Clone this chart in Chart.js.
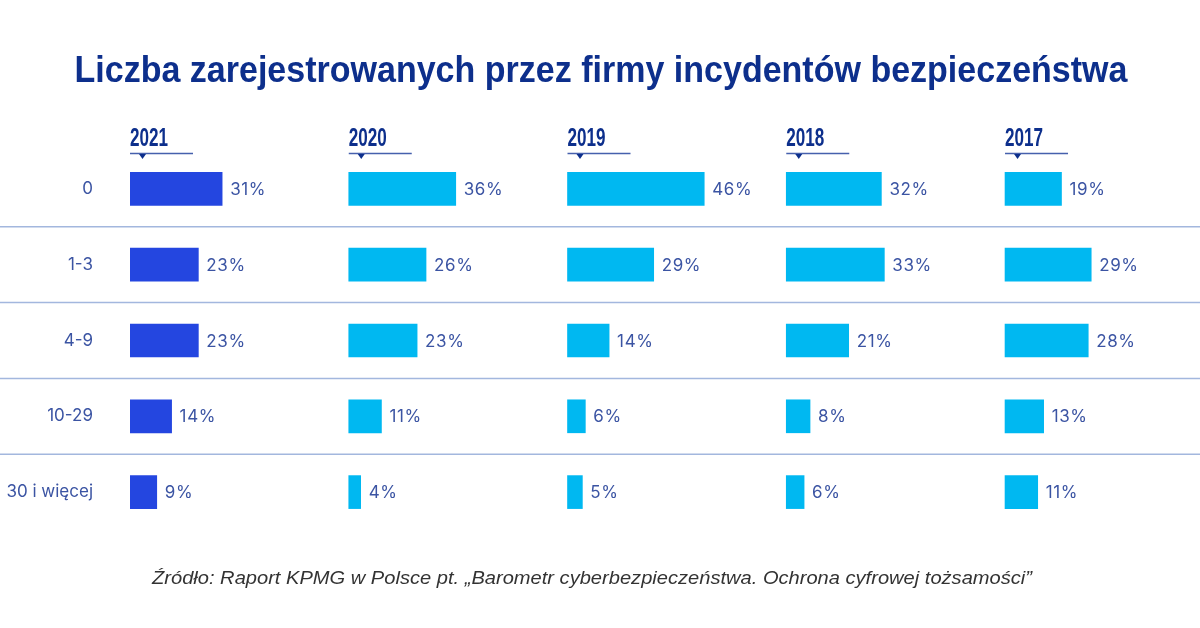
<!DOCTYPE html>
<html lang="pl">
<head>
<meta charset="utf-8">
<title>Liczba zarejestrowanych przez firmy incydentów bezpieczeństwa</title>
<script src="https://cdn.jsdelivr.net/npm/chart.js@4.4.1/dist/chart.umd.min.js"></script>
<style>
  html, body { margin: 0; padding: 0; background: #fff; }
  #wrap { width: 1200px; height: 628px; }
</style>
</head>
<body>
<div id="wrap"><canvas id="chart" width="1200" height="628"></canvas></div>
<script>
const categories = ["0", "1-3", "4-9", "10-29", "30 i więcej"];
const years = ["2021", "2020", "2019", "2018", "2017"];
const share2021 = [31, 23, 23, 14, 9];
const share2020 = [36, 26, 23, 11, 4];
const share2019 = [46, 29, 14, 6, 5];
const share2018 = [32, 33, 21, 8, 6];
const share2017 = [19, 29, 28, 13, 11];
const series = [share2021, share2020, share2019, share2018, share2017];

const TITLE = "Liczba zarejestrowanych przez firmy incydentów bezpieczeństwa";
const SOURCE = "Źródło: Raport KPMG w Polsce pt. „Barometr cyberbezpieczeństwa. Ochrona cyfrowej tożsamości”";

const NAVY = "#0d2f8c";
const LABEL = "#3b54a3";
const PANEL = 73.6; // one year column = this many % units on the shared x scale

// draw text squeezed/stretched horizontally to a given width
function fitText(c, str, x, y, font, width, align) {
  c.save();
  c.font = font;
  const k = width / c.measureText(str).width;
  c.translate(x, y);
  c.scale(k, 1);
  c.textAlign = align;
  c.textBaseline = "alphabetic";
  c.fillText(str, 0, 0);
  c.restore();
}

/* ================= PLUGINS ================= */

const separators = {
  id: "separators",
  beforeDatasetsDraw(chart) {
    const c = chart.ctx, ys = chart.scales.y;
    c.save();
    c.strokeStyle = "#a3b7de";
    c.lineWidth = 1.5;
    for (let i = 0; i < categories.length - 1; i++) {
      const y = (ys.getPixelForValue(i) + ys.getPixelForValue(i + 1)) / 2;
      c.beginPath();
      c.moveTo(0, y);
      c.lineTo(chart.width, y);
      c.stroke();
    }
    c.restore();
  }
};

const decorations = {
  id: "decorations",
  afterDraw(chart) {
    const c = chart.ctx, xs = chart.scales.x;

    // title
    c.fillStyle = NAVY;
    fitText(c, TITLE, 601, 82, "bold 37px 'Liberation Sans', Arial, sans-serif", 1053, "center");

    // year headers
    years.forEach((yr, i) => {
      const x0 = xs.getPixelForValue(i * PANEL);
      c.fillStyle = NAVY;
      fitText(c, yr, x0, 146, "bold 25px 'Liberation Sans', Arial, sans-serif", 38, "left");
      c.save();
      c.strokeStyle = "#4660ad";
      c.lineWidth = 1.5;
      c.beginPath();
      c.moveTo(x0, 153.5);
      c.lineTo(x0 + 63, 153.5);
      c.stroke();
      c.fillStyle = NAVY;
      c.beginPath();
      c.moveTo(x0 + 9, 154);
      c.lineTo(x0 + 16, 154);
      c.lineTo(x0 + 12.5, 159);
      c.closePath();
      c.fill();
      c.restore();
    });

    // source
    c.fillStyle = "#333333";
    fitText(c, SOURCE, 592, 584, "italic 19px 'Liberation Sans', Arial, sans-serif", 880, "center");
  }
};

const valueLabels = {
  id: "valueLabels",
  afterDatasetsDraw(chart) {
    const c = chart.ctx, xs = chart.scales.x;
    c.save();
    c.font = "17px Inter, 'Noto Sans', sans-serif";
    c.letterSpacing = "0.6px";
    c.fillStyle = LABEL;
    c.textAlign = "left";
    c.textBaseline = "middle";
    series.forEach((vals, i) => {
      const meta = chart.getDatasetMeta(i);
      vals.forEach((v, j) => {
        const x = xs.getPixelForValue(i * PANEL + v);
        c.fillText(v + "%", x + 8, meta.data[j].y + 1);
      });
    });
    c.restore();
  }
};

/* ================= CHART ================= */

const chart = new Chart(document.getElementById("chart"), {
  type: "bar",
  data: {
    labels: categories,
    datasets: series.map((vals, i) => ({
      label: years[i],
      data: vals.map(v => [i * PANEL, i * PANEL + v]),
      backgroundColor: i === 0 ? "#2446e0" : "#00b8f1",
      borderWidth: 0,
      barThickness: 33,
      grouped: false
    }))
  },
  options: {
    indexAxis: "y",
    responsive: false,
    animation: false,
    layout: { padding: { top: 151, bottom: 98, left: 0, right: 0 } },
    plugins: {
      legend: { display: false },
      tooltip: { enabled: false }
    },
    scales: {
      x: { display: false, min: 0, max: 360 },
      y: {
        grid: { display: false, drawTicks: false },
        border: { display: false },
        ticks: {
          color: LABEL,
          font: { family: "Inter, 'Noto Sans', sans-serif", size: 17 },
          padding: 37
        },
        afterFit(scale) { scale.width = 130; }
      }
    }
  },
  plugins: [separators, valueLabels, decorations]
});
</script>
</body>
</html>
